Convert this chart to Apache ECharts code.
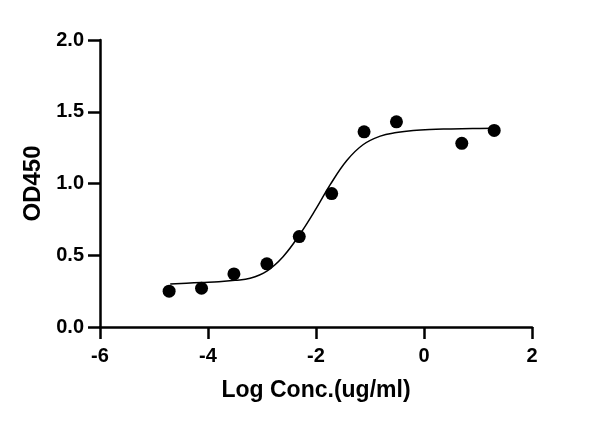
<!DOCTYPE html>
<html>
<head>
<meta charset="utf-8">
<script src="https://cdn.jsdelivr.net/npm/echarts@6/dist/echarts.min.js"></script>
<style>
  html, body { margin: 0; padding: 0; background: #fff; }
  #chart { width: 600px; height: 423px; }
</style>
</head>
<body>
<div id="chart"></div>
<script>
// measured points (log conc, OD450)
var logConc = [-4.72, -4.12, -3.52, -2.91, -2.31, -1.71, -1.11, -0.51, 0.70, 1.30];
var od450 = [0.25, 0.27, 0.37, 0.44, 0.63, 0.93, 1.36, 1.43, 1.28, 1.37];

// fitted curve
var fitX = [-4.70, -4.40, -4.12, -3.80, -3.50, -3.22, -2.91, -2.61, -2.31, -1.99, -1.74, -1.43, -1.13, -0.81, -0.51, -0.20, 0.11, 0.50, 0.90, 1.30];
var fitY = [0.30, 0.305, 0.31, 0.315, 0.325, 0.34, 0.39, 0.49, 0.64, 0.83, 0.99, 1.16, 1.27, 1.33, 1.355, 1.37, 1.377, 1.38, 1.383, 1.385];

var xTicks = [-6, -4, -2, 0, 2];
var yTicks = [0, 0.5, 1.0, 1.5, 2.0];

const drawChart = () => {
  var chartDom = document.getElementById('chart');
  var myChart = echarts.init(chartDom);
  var option;

  var pts = logConc.map(function (x, i) { return [x, od450[i]]; });
  var curve = fitX.map(function (x, i) { return [x, fitY[i]]; });

  var labelFont = {
    color: '#000',
    fontFamily: 'Liberation Sans',
    fontWeight: 'bold',
  };

  option = {
    animation: false,
    backgroundColor: '#fff',
    grid: {
      left: 100,
      right: 68,
      top: 40,
      bottom: 96,
    },
    xAxis: {
      type: 'value',
      min: xTicks[0],
      max: xTicks[xTicks.length - 1],
      interval: 2,
      name: 'Log Conc.(ug/ml)',
      nameLocation: 'middle',
      nameGap: 52,
      nameTextStyle: Object.assign({ fontSize: 23 }, labelFont),
      axisLine: { onZero: false, lineStyle: { color: '#000', width: 2.5 } },
      axisTick: { show: true, inside: false, length: 12, lineStyle: { color: '#000', width: 2.5 } },
      axisLabel: Object.assign({ fontSize: 20, margin: 19 }, labelFont),
      splitLine: { show: false },
    },
    yAxis: {
      type: 'value',
      min: yTicks[0],
      max: yTicks[yTicks.length - 1],
      interval: 0.5,
      name: 'OD450',
      nameLocation: 'middle',
      nameGap: 53,
      nameTextStyle: Object.assign({ fontSize: 24 }, labelFont),
      axisLine: { show: true, onZero: false, lineStyle: { color: '#000', width: 2.5 } },
      axisTick: { show: true, length: 12, lineStyle: { color: '#000', width: 2.5 } },
      axisLabel: Object.assign({
        fontSize: 20,
        margin: 16,
        formatter: function (v) { return v.toFixed(1); },
      }, labelFont),
      splitLine: { show: false },
    },
    series: [
      {
        name: 'fit',
        type: 'line',
        data: curve,
        smooth: 0.4,
        showSymbol: false,
        lineStyle: { color: '#000', width: 1.5 },
        z: 2,
      },
      {
        name: 'OD450',
        type: 'scatter',
        data: pts,
        symbol: 'circle',
        symbolSize: 13,
        itemStyle: { color: '#000', opacity: 1 },
        z: 3,
      },
    ],
  };

  option && myChart.setOption(option);
};

drawChart();
</script>
</body>
</html>
